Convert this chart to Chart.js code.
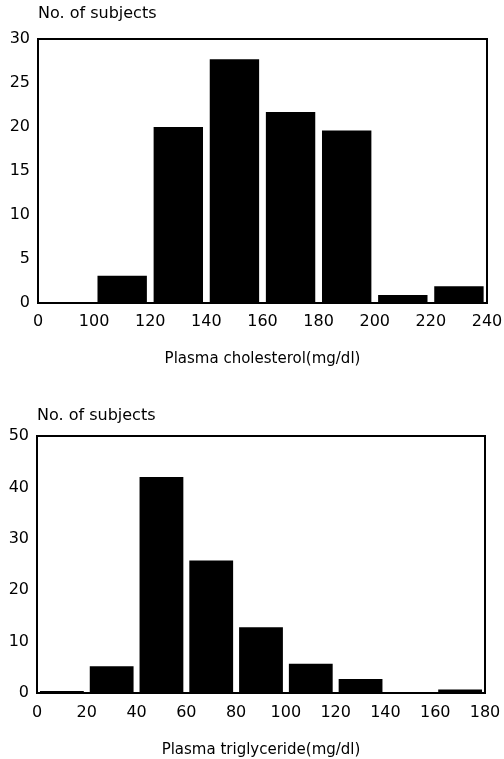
<!DOCTYPE html>
<html>
<head>
<meta charset="utf-8">
<script src="https://cdn.jsdelivr.net/npm/chart.js@4.4.0/dist/chart.umd.min.js"></script>
<style>
  html, body { margin: 0; padding: 0; background: #fff; }
  canvas { display: block; }
</style>
</head>
<body>
<canvas id="cholChart" width="504" height="385"></canvas>
<canvas id="trigChart" width="504" height="374"></canvas>
<script>
// cholesterol histogram (bins drawn evenly, first bin is 0-100)
const cholEdges = ["0", "100", "120", "140", "160", "180", "200", "220", "240"];
const cholCounts = [0, 3.1, 20, 27.7, 21.7, 19.6, 0.9, 1.9];

// triglyceride histogram
const trigEdges = ["0", "20", "40", "60", "80", "100", "120", "140", "160", "180"];
const trigCounts = [0.4, 5.2, 42, 25.8, 12.8, 5.7, 2.7, 0.1, 0.7];

const yLabel = "No. of subjects";
const FONT = "'DejaVu Sans', sans-serif";

// black frame around the plot area
const framePlugin = {
  id: "frame",
  afterDraw(chart) {
    const { ctx, chartArea: a } = chart;
    ctx.save();
    ctx.strokeStyle = "#000";
    ctx.lineWidth = 2;
    ctx.strokeRect(a.left, a.top, a.right - a.left, a.bottom - a.top);
    ctx.restore();
  },
};

function drawHistogram(id, edges, counts, yMax, yStep, xTitle, lay) {
  const ctx = document.getElementById(id).getContext("2d");
  const points = counts.map((v, i) => ({ x: i + 0.5, y: v }));

  return new Chart(ctx, {
    type: "bar",
    data: {
      datasets: [
        {
          data: points,
          backgroundColor: "#000",
          borderWidth: 0,
          barPercentage: 0.88,
          categoryPercentage: 1,
        },
      ],
    },
    options: {
      responsive: false,
      animation: false,
      devicePixelRatio: 1,
      layout: { padding: { left: 0, right: lay.right, top: 0, bottom: 0 } },
      plugins: {
        legend: { display: false },
        tooltip: { enabled: false },
        title: {
          display: true,
          text: yLabel,
          align: "start",
          fullSize: false,
          color: "#000",
          font: { family: FONT, size: 16, weight: "normal" },
          padding: { top: lay.titleTop, bottom: lay.titleBottom },
        },
      },
      scales: {
        x: {
          type: "linear",
          min: 0,
          max: edges.length - 1,
          offset: false,
          grid: { display: false, drawTicks: false, offset: false },
          border: { display: false },
          ticks: {
            stepSize: 1,
            padding: lay.xPad,
            color: "#000",
            font: { family: FONT, size: 16 },
            maxRotation: 0,
            autoSkip: false,
            callback: (v) => edges[v],
          },
          title: {
            display: true,
            text: xTitle,
            color: "#000",
            font: { family: FONT, size: 15 },
            padding: { top: 0, bottom: lay.xTitleBottom },
          },
          afterFit: (s) => {
            s.height = lay.xHeight;
            s.paddingLeft = 0;
            s.paddingRight = 0;
          },
        },
        y: {
          min: 0,
          max: yMax,
          grid: { display: false, drawTicks: false },
          border: { display: false },
          ticks: {
            stepSize: yStep,
            padding: 8,
            color: "#000",
            font: { family: FONT, size: 16 },
          },
          afterFit: (s) => {
            s.width = lay.left;
            s.paddingTop = 0;
            s.paddingBottom = 0;
          },
        },
      },
    },
    plugins: [framePlugin],
  });
}

drawHistogram("cholChart", cholEdges, cholCounts, 30, 5, "Plasma cholesterol(mg/dl)", {
  left: 38, right: 17, titleTop: 4.4, titleBottom: 15.4,
  xHeight: 82, xPad: 9, xTitleBottom: 17,
});

drawHistogram("trigChart", trigEdges, trigCounts, 50, 10, "Plasma triglyceride(mg/dl)", {
  left: 37, right: 19, titleTop: 21.4, titleBottom: 10.4,
  xHeight: 66, xPad: 10, xTitleBottom: 0,
});
</script>
</body>
</html>
